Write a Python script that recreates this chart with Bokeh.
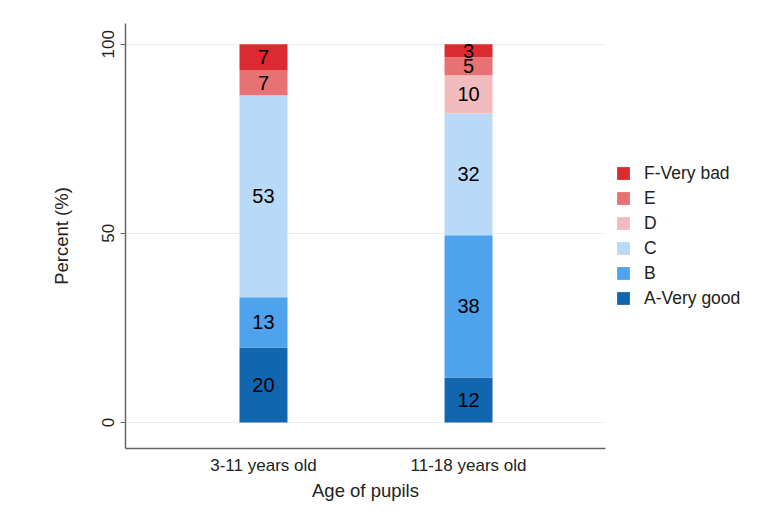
from bokeh.plotting import figure
from bokeh.models import Range1d, FixedTicker, Legend, LegendItem, ColumnDataSource
from bokeh.core.properties import value
from bokeh.embed import file_html
from bokeh.resources import INLINE

# ---- data ----
groups = ["3-11 years old", "11-18 years old"]
categories = ["A-Very good", "B", "C", "D", "E", "F-Very bad"]
A = [19.8, 11.9]
B = [13.3, 37.6]
C = [53.4, 32.2]
D = [0.0, 10.1]
E = [6.6, 4.8]
F = [6.9, 3.4]
colors = ["#1266B0", "#4EA3EC", "#B9DAF7", "#F2BBBE", "#E87174", "#DC2B30"]
y_ticks = [0, 50, 100]

FONT = "Liberation Sans"
series = [A, B, C, D, E, F]
xpos = [1, 2]

data = {"x": xpos}
for name, vals in zip(categories, series):
    data[name] = vals
src = ColumnDataSource(data)

p = figure(output_backend="svg", toolbar_location=None,
           frame_width=480, frame_height=425,
           min_border_left=125, min_border_right=152,
           min_border_top=23, min_border_bottom=62,
           x_range=Range1d(0.327, 2.668), y_range=Range1d(-6.9, 105.5))
p.background_fill_color = "white"
p.border_fill_color = "white"
p.outline_line_color = None

renderers = p.vbar_stack(categories, x="x", width=0.234, source=src,
                         color=colors, line_color=None)

# segment labels
lx, ly, lt = [], [], []
for gi, xv in enumerate(xpos):
    base = 0.0
    for vals in series:
        v = vals[gi]
        if v > 0:
            lx.append(xv)
            ly.append(base + v / 2)
            lt.append(str(int(round(v))))
        base += v
p.text(x=lx, y=ly, text=lt, text_align="center", text_baseline="middle",
       text_font=value(FONT), text_font_size="20px", text_color="black")

# axes
p.xaxis.ticker = FixedTicker(ticks=xpos)
p.xaxis.major_label_overrides = {1: groups[0], 2: groups[1]}
p.xaxis.major_tick_line_color = None
p.xaxis.major_tick_in = 0
p.xaxis.major_tick_out = 0
p.xaxis.minor_tick_line_color = None
p.xaxis.axis_label = "Age of pupils"
p.xaxis.major_label_standoff = 7
p.xaxis.axis_label_standoff = 2

p.yaxis.ticker = FixedTicker(ticks=y_ticks)
p.yaxis.major_label_orientation = "vertical"
p.yaxis.minor_tick_line_color = None
p.yaxis.major_tick_in = 0
p.yaxis.major_tick_out = 5
p.yaxis.major_tick_line_color = "#666666"
p.yaxis.axis_label = "Percent (%)"
p.yaxis.major_label_standoff = 6
p.yaxis.axis_label_standoff = 28

for ax in (p.xaxis, p.yaxis):
    ax.axis_line_color = "#666666"
    ax.axis_line_width = 1.5
    ax.major_label_text_font = FONT
    ax.major_label_text_font_size = "17px"
    ax.major_label_text_color = "#222222"
    ax.axis_label_text_font = FONT
    ax.axis_label_text_font_size = "18.5px"
    ax.axis_label_text_font_style = "normal"
    ax.axis_label_text_color = "#222222"

p.xgrid.grid_line_color = None
p.ygrid.ticker = FixedTicker(ticks=y_ticks)
p.ygrid.grid_line_color = "#E6EFF2"
p.ygrid.grid_line_width = 1

items = [LegendItem(label=categories[i], renderers=[renderers[i]])
         for i in range(len(categories) - 1, -1, -1)]
legend = Legend(items=items, location="center_left",
                glyph_width=16, glyph_height=16, label_height=16,
                spacing=4, label_standoff=13, margin=10, padding=13,
                label_text_font=FONT, label_text_font_size="17.5px",
                label_text_color="#222222",
                border_line_color=None, background_fill_alpha=0)
p.add_layout(legend, "right")

open("out.html", "w").write(file_html(p, INLINE))
